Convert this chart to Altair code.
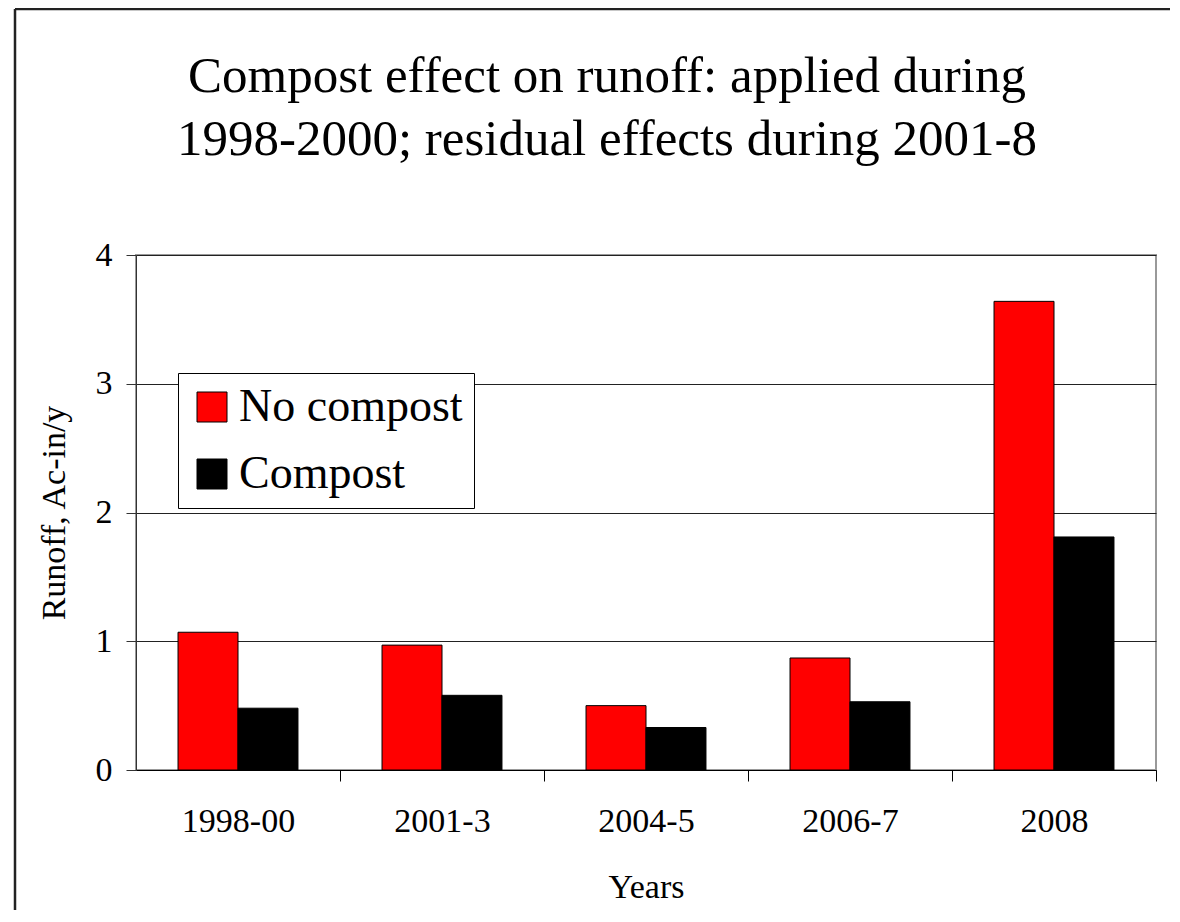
import altair as alt
import pandas as pd

categories = ["1998-00", "2001-3", "2004-5", "2006-7", "2008"]
no_compost = [1.07, 0.97, 0.50, 0.87, 3.64]
compost = [0.48, 0.58, 0.33, 0.53, 1.81]
series = ["No compost", "Compost"]
colors = ["#ff0000", "#000000"]
y_ticks = [0, 1, 2, 3, 4]

rows = []
for c, a, b in zip(categories, no_compost, compost):
    rows.append({"Years": c, "Treatment": series[0], "Runoff": a})
    rows.append({"Years": c, "Treatment": series[1], "Runoff": b})
df = pd.DataFrame(rows)

FONT = "'Liberation Serif', 'Times New Roman', serif"

bars = alt.Chart(df).mark_bar(stroke="#000000", strokeWidth=1).encode(
    x=alt.X(
        "Years:N",
        sort=categories,
        scale=alt.Scale(paddingInner=0.412, paddingOuter=0.206),
        axis=alt.Axis(
            title="Years",
            labelAngle=0,
            bandPosition=1,
            tickOffset=42,
            labelOffset=-42,
            tickSize=11,
            tickColor="#000000",
            domainColor="#000000",
            labelPadding=23,
            titlePadding=32,
        ),
    ),
    xOffset=alt.XOffset("Treatment:N", sort=series, scale=alt.Scale(paddingInner=0, paddingOuter=0)),
    y=alt.Y(
        "Runoff:Q",
        scale=alt.Scale(domain=[0, 4], nice=False),
        axis=alt.Axis(
            title="Runoff, Ac-in/y",
            values=y_ticks,
            tickSize=10,
            tickColor="#333333",
            domainColor="#333333",
            gridColor="#222222",
            labelPadding=14,
            titlePadding=24,
        ),
    ),
    color=alt.Color(
        "Treatment:N",
        sort=series,
        scale=alt.Scale(domain=series, range=colors),
        legend=alt.Legend(
            title=None,
            orient="none",
            legendX=42,
            legendY=118,
            direction="vertical",
            fillColor="#ffffff",
            strokeColor="#000000",
            padding=11,
            symbolType="square",
            symbolSize=900,
            symbolStrokeColor="#000000",
            symbolStrokeWidth=1,
            symbolOpacity=1,
            labelFontSize=46,
            labelFont=FONT,
            labelColor="#000000",
            labelOffset=4,
            labelLimit=600,
            rowPadding=21,
        ),
    ),
)

border_df = pd.DataFrame({"k": [0]})
top_line = alt.Chart(border_df).mark_rule(color="#222222", strokeWidth=2.5).encode(
    x=alt.value(-121), x2=alt.value(1100), y=alt.value(-246)
)
left_line = alt.Chart(border_df).mark_rule(color="#222222", strokeWidth=2.5).encode(
    x=alt.value(-121), y=alt.value(-246), y2=alt.value(700)
)

chart = alt.layer(bars, top_line, left_line).properties(
    width=1020,
    height=515,
    background="#ffffff",
    autosize=alt.AutoSizeParams(type="none"),
    padding={"left": 128, "top": 247, "right": 14, "bottom": 140},
    title=alt.Title(
        ["Compost effect on runoff: applied during", "1998-2000; residual effects during 2001-8"],
        fontSize=51,
        font=FONT,
        fontWeight="normal",
        color="#000000",
        anchor="middle",
        dx=-39,
        offset=-158,
        lineHeight=63,
    ),
).configure_view(
    stroke="#999999", strokeWidth=2
).configure_axis(
    labelFont=FONT,
    titleFont=FONT,
    labelFontSize=34,
    titleFontSize=34,
    labelColor="#000000",
    titleColor="#000000",
    titleFontWeight="normal",
    gridWidth=1,
)

chart.save("out.html", embed_options={"renderer": "svg", "actions": False})
